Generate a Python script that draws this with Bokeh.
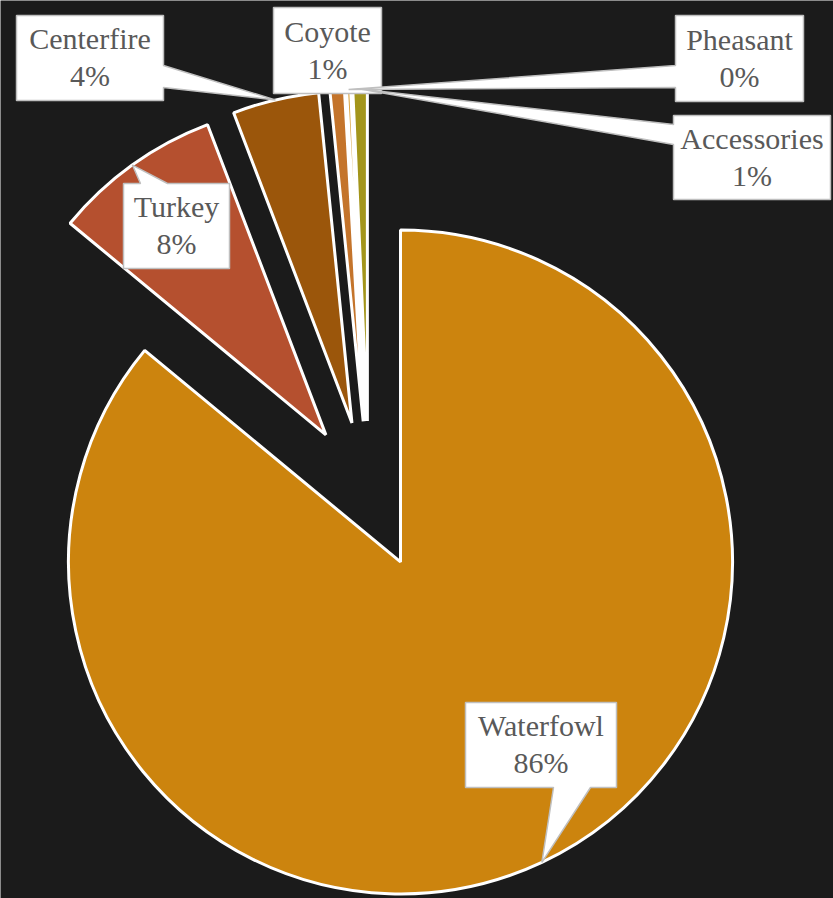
import math
from bokeh.plotting import figure
from bokeh.models import Range1d
from bokeh.embed import file_html
from bokeh.resources import INLINE
from bokeh.core.properties import value

# ---------------- data ----------------
categories = ["Waterfowl", "Turkey", "Centerfire", "Coyote", "Pheasant", "Accessories"]
shares = [86.0, 8.2, 4.2, 0.7, 0.2, 0.7]   # percent of total

# ---------------- style ----------------
colors = ["#CC840E", "#B5502F", "#9B560B", "#C4742B", "#D9A441", "#A3951A"]
BG = "#1b1b1b"
TEXT_COLOR = "#595959"
FONT = "Liberation Serif"
FONT_SIZE = "30px"

# layout (page pixels)
PAGE_MARGIN = 0
W, H = 833, 898
CX, CY = 368.5, 494.5      # un-exploded pie centre
R = 332                    # pie radius
EXPLODE = 74               # explosion distance of every slice

# callout boxes: (left, top, right, bottom), pointer side, pointer base range
callouts = {
    "Waterfowl":   ((465, 702, 616, 787), "bottom", (553, 590)),
    "Turkey":      ((123, 183, 229, 268), "top", (140, 167)),
    "Centerfire":  ((16, 15, 163, 100), "right", (65, 87)),
    "Coyote":      ((273, 7, 381, 93), None, None),
    "Pheasant":    ((675, 15, 803, 101), "left", (65, 87)),
    "Accessories": ((673, 115, 830, 199), "left", (124, 144)),
}
LINE1_DY, LINE2_DY = -19.5, 17.5   # text offsets from box centre (px, downwards)


def to_data(px, py):
    return px - CX, CY - py


p = figure(width=W, height=H, output_backend="svg", toolbar_location=None,
           x_range=Range1d(PAGE_MARGIN - CX, PAGE_MARGIN + W - CX),
           y_range=Range1d(CY - (PAGE_MARGIN + H), CY - PAGE_MARGIN),
           min_border=0)
p.axis.visible = False
p.xgrid.visible = False
p.ygrid.visible = False
p.outline_line_color = None
p.background_fill_color = BG
p.border_fill_color = BG

total = sum(shares)
cum = 0.0
tips = {}
for cat, s, col in zip(categories, shares, colors):
    th0 = cum / total * 360.0
    th1 = (cum + s) / total * 360.0
    cum += s
    mid = math.radians(90.0 - (th0 + th1) / 2.0)
    ox, oy = EXPLODE * math.cos(mid), EXPLODE * math.sin(mid)
    p.wedge(x=ox, y=oy, radius=R,
            start_angle=math.radians(90.0 - th1), end_angle=math.radians(90.0 - th0),
            fill_color=col, line_color="white", line_width=3)
    tips[cat] = (ox + R * math.cos(mid), oy + R * math.sin(mid))

# callouts
for cat, s in zip(categories, shares):
    (l, t, r, b), side, base = callouts[cat]
    tx, ty = tips[cat]
    tip_px = (tx + CX, CY - ty)
    pts = []
    pts.append((l, t))
    if side == "top":
        pts += [(base[0], t), tip_px, (base[1], t)]
    pts.append((r, t))
    if side == "right":
        pts += [(r, base[0]), tip_px, (r, base[1])]
    pts.append((r, b))
    if side == "bottom":
        pts += [(base[1], b), tip_px, (base[0], b)]
    pts.append((l, b))
    if side == "left":
        pts += [(l, base[1]), tip_px, (l, base[0])]
    xs, ys = zip(*[to_data(*q) for q in pts])
    p.patch(x=list(xs), y=list(ys), fill_color="white", line_color="#BFBFBF", line_width=1.5)

    cx_box = (l + r) / 2.0
    cy_box = (t + b) / 2.0
    x1, y1 = to_data(cx_box, cy_box + LINE1_DY)
    x2, y2 = to_data(cx_box, cy_box + LINE2_DY)
    p.text(x=[x1, x2], y=[y1, y2], text=[cat, f"{round(s)}%"],
           text_align="center", text_baseline="alphabetic",
           text_font=value(FONT), text_font_size=FONT_SIZE, text_color=TEXT_COLOR)

open("out.html", "w").write(file_html(p, INLINE))
